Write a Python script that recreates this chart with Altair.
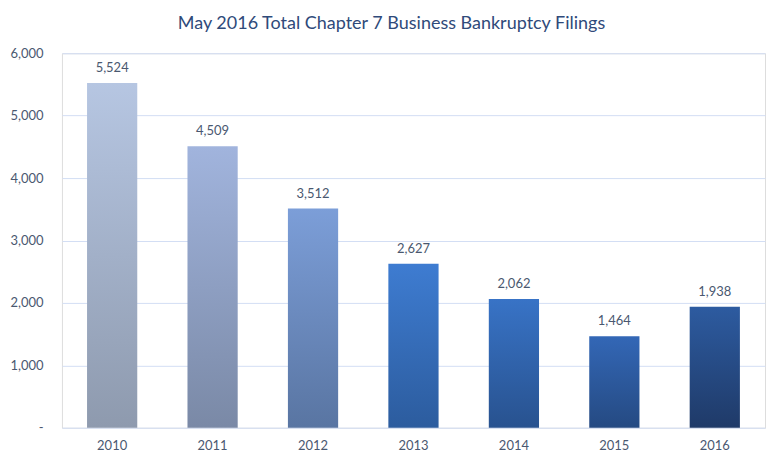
import altair as alt
import pandas as pd

years = ["2010", "2011", "2012", "2013", "2014", "2015", "2016"]
filings = [5524, 4509, 3512, 2627, 2062, 1464, 1938]

# gradient styles (top, bottom) per bar
grad_top = ["#b6c6e2", "#a1b4dd", "#7c9ed8", "#3e7cd1", "#3873c6", "#3367b6", "#2d5ba0"]
grad_bot = ["#8e9aae", "#7a89a6", "#5975a2", "#2c5c9e", "#28528f", "#254a82", "#1f3a68"]

df = pd.DataFrame({"year": years, "filings": filings})

FONT = "Lato"
TXT = "#4a5870"

x_enc = alt.X("year:N", sort=years, title=None,
              scale=alt.Scale(paddingInner=0.5, paddingOuter=0.25),
              axis=alt.Axis(labelAngle=0, domain=False, ticks=False, labelPadding=12,
                            labelFont=FONT, labelFontSize=13, labelColor=TXT))
y_enc = alt.Y("filings:Q", title=None,
              scale=alt.Scale(domain=[0, 6000]),
              axis=alt.Axis(values=[0, 1000, 2000, 3000, 4000, 5000, 6000],
                            labelExpr="datum.value == 0 ? '-' : format(datum.value, ',')",
                            domain=False, ticks=False, labelPadding=19,
                            labelFont=FONT, labelFontSize=13, labelColor=TXT,
                            grid=True, gridColor="#d3def4", gridWidth=1))

layers = []
for i, yr in enumerate(years):
    grad = alt.Gradient(gradient="linear", x1=0, y1=0, x2=0, y2=1,
                        stops=[alt.GradientStop(color=grad_top[i], offset=0),
                               alt.GradientStop(color=grad_bot[i], offset=1)])
    layers.append(
        alt.Chart(df).transform_filter(alt.datum.year == yr)
        .mark_bar(color=grad)
        .encode(x=x_enc, y=y_enc)
    )

labels = alt.Chart(df).mark_text(baseline="bottom", dy=-8, font=FONT, fontSize=13, color=TXT).encode(
    x=alt.X("year:N", sort=years),
    y="filings:Q",
    text=alt.Text("filings:Q", format=",")
)

chart = alt.layer(*layers, labels).properties(
    width=704, height=375,
    title=alt.TitleParams("May 2016 Total Chapter 7 Business Bankruptcy Filings",
                          font=FONT, fontSize=18, fontWeight="normal", color="#2f4a7a",
                          anchor="middle", offset=14, dx=-22),
    autosize=alt.AutoSizeParams(type="none"),
    padding={"left": 54, "top": 45, "right": 10, "bottom": 30}
).configure_view(stroke=None).configure(background="white")

chart.save("out.html", embed_options={"renderer": "svg", "actions": False})
